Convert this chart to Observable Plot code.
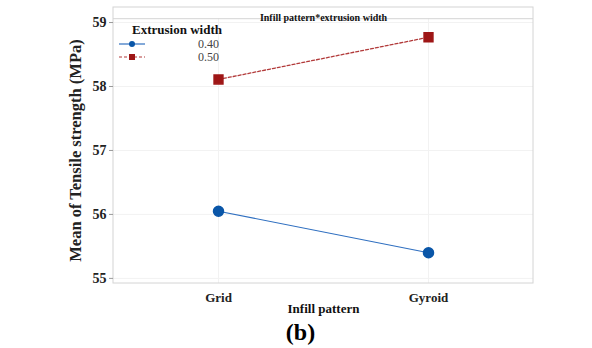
<!DOCTYPE html>
<html><head><meta charset="utf-8">
<script src="https://cdn.jsdelivr.net/npm/d3@7"></script>
<script src="https://cdn.jsdelivr.net/npm/@observablehq/plot@0.6"></script>
<style>body{margin:0;background:#fff}svg{display:block}svg text{font-family:'Liberation Serif','Times New Roman',serif}</style>
</head><body><div id="chart"></div>
<script>
const patterns = ["Grid", "Gyroid"];
const widths = ["0.40", "0.50"];
const values040 = [56.05, 55.40];
const values050 = [58.11, 58.77];
const yTicks = [55, 56, 57, 58, 59];

const data = [];
patterns.forEach((p, i) => {
  data.push({pattern: p, width: "0.40", value: values040[i]});
  data.push({pattern: p, width: "0.50", value: values050[i]});
});
const d40 = data.filter(d => d.width === "0.40");
const d50 = data.filter(d => d.width === "0.50");

const font = "'Liberation Serif', 'Times New Roman', serif";
const blue = "#0a56a8";
const red = "#9e1616";
const yMin = 54.92, yTop = 59.06, yStrip = 59.235;

const plot = Plot.plot({
  width: 592, height: 348,
  marginLeft: 113, marginRight: 59, marginTop: 7, marginBottom: 65,
  style: {fontFamily: font, background: "#fff"},
  x: {type: "point", domain: patterns, padding: 0.5, label: null, axis: null},
  y: {domain: [yMin, yStrip], label: null, axis: null},
  marks: [
    Plot.ruleY(yTicks, {stroke: "#f2f2f2", strokeWidth: 1}),
    Plot.ruleX(patterns, {y1: yMin, y2: yTop, stroke: "#f2f2f2", strokeWidth: 1}),
    Plot.rect([0], {y1: yMin, y2: yStrip, fill: "none", stroke: "#d4d4d4", strokeWidth: 1}),
    Plot.ruleY([yTop], {stroke: "#d4d4d4", strokeWidth: 1}),
    Plot.text(["Infill pattern*extrusion width"], {frameAnchor: "top", dy: 6, fontSize: 10, fontWeight: "bold", fill: "#111"}),
    Plot.axisY(yTicks, {anchor: "left", tickSize: 4, tickPadding: 3, tickFormat: d => String(d), fontSize: 14, fontWeight: "bold", fill: "#222", stroke: "#999", label: null}),
    Plot.axisX(patterns, {anchor: "bottom", tickSize: 0, tickPadding: 9, fontSize: 13, fontWeight: "bold", fill: "#222", label: null}),
    Plot.text(["Infill pattern"], {frameAnchor: "bottom", dy: 29, fontSize: 13, fontWeight: "bold", fill: "#111"}),
    Plot.text(["(b)"], {frameAnchor: "bottom", dx: -23, dy: 56, fontSize: 24, fontWeight: "bold", fill: "#000"}),
    Plot.text(["Mean of Tensile strength (MPa)"], {frameAnchor: "left", textAnchor: "middle", dx: -38, dy: 5, rotate: -90, fontSize: 16.5, fontWeight: "bold", fill: "#222"}),
    Plot.line(d50, {x: "pattern", y: "value", stroke: "#b23a3a", strokeWidth: 1.3, strokeDasharray: "3,2"}),
    Plot.line(d40, {x: "pattern", y: "value", stroke: "#2f6fc0", strokeWidth: 1.1}),
    Plot.dot(d40, {x: "pattern", y: "value", r: 5, fill: blue, stroke: blue}),
    Plot.dot(d50, {x: "pattern", y: "value", r: 5, symbol: "square", fill: red, stroke: red})
  ]
});

const svg = d3.select(plot);
const lg = svg.append("g").attr("font-family", font).attr("text-anchor", "start");
lg.append("text").attr("x", 132).attr("y", 34).attr("text-anchor", "start").attr("font-size", 13).attr("font-weight", "bold").attr("fill", "#111").text("Extrusion width");
const entries = [{label: widths[0], color: blue, line: "#2f6fc0", dash: null, sym: "circle"},
                 {label: widths[1], color: red, line: "#b23a3a", dash: "3,2", sym: "square"}];
entries.forEach((e, i) => {
  const y = 44 + i * 13;
  lg.append("line").attr("x1", 119).attr("x2", 145).attr("y1", y).attr("y2", y)
    .attr("stroke", e.line).attr("stroke-width", 1.2).attr("stroke-dasharray", e.dash);
  if (e.sym === "circle") lg.append("circle").attr("cx", 132).attr("cy", y).attr("r", 3).attr("fill", e.color);
  else lg.append("rect").attr("x", 129).attr("y", y - 3).attr("width", 6).attr("height", 6).attr("fill", e.color);
  lg.append("text").attr("x", 219).attr("y", y + 4).attr("text-anchor", "end").attr("font-size", 12).attr("fill", "#444").text(e.label);
});

document.getElementById("chart").appendChild(plot);
</script></body></html>
